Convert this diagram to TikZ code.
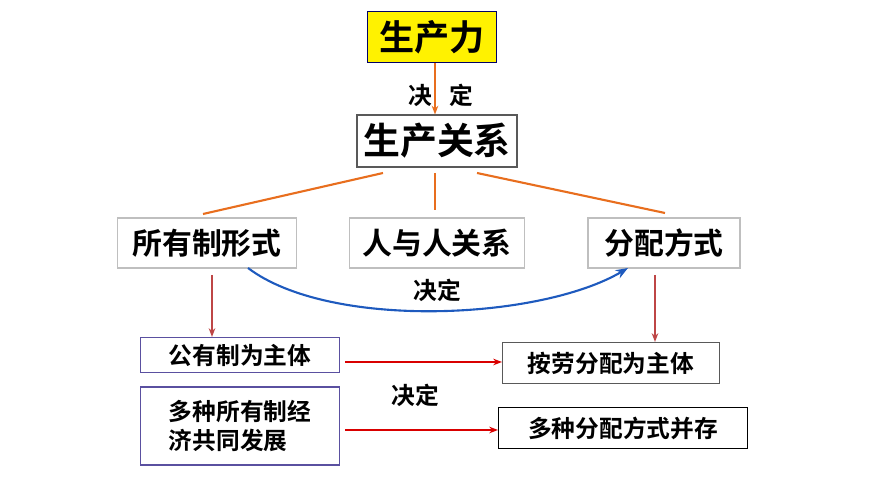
\documentclass[tikz,border=0pt]{standalone}
\usepackage{fontspec}
\newfontfamily\cjk{Noto Sans CJK SC Bold}
\usetikzlibrary{arrows.meta}
\definecolor{orline}{RGB}{232,110,30}
\definecolor{brline}{RGB}{190,70,70}
\definecolor{bluecurve}{RGB}{30,90,190}
\definecolor{purpbox}{RGB}{90,80,160}
\tikzset{
  box/.style={draw=gray!70!black, line width=0.6pt, inner sep=2pt, font=\cjk\fontsize{17}{20}\selectfont},
  smallbox/.style={draw=purpbox, line width=0.6pt, inner sep=3pt, align=left, font=\cjk\fontsize{13.5}{17}\selectfont},
  lbl/.style={font=\cjk\fontsize{13.5}{16}\selectfont},
  redarr/.style={-{Stealth[length=5pt]}, red!85!black, line width=1.1pt},
}
\begin{document}
\begin{tikzpicture}[x=0.02cm, y=-0.02cm]
\useasboundingbox (0,0) rectangle (870,489);
\node[box, fill=yellow, draw=blue!40!black, minimum width=2.58cm, minimum height=1.02cm, font=\cjk\fontsize{20}{24}\selectfont] (sc) at (432,37) {生产力};
\node[box, minimum width=3.2cm, minimum height=1.04cm, font=\cjk\fontsize{21}{25}\selectfont] (gx) at (437,141) {生产关系};
\node[lbl] (jd1) at (441,95) {决\hspace{0.7em}定};
\draw[-{Stealth[length=5pt]}, orline, line width=1pt] (sc.south -| 435,0) -- (gx.north -| 435,0);
% three parts
\node[box, draw=gray!50, minimum width=3.58cm, minimum height=1cm] (syz) at (207,243) {所有制形式};
\node[box, draw=gray!50, minimum width=3.5cm, minimum height=1cm] (rgx) at (437,243) {人与人关系};
\node[box, draw=gray!50, minimum width=3.04cm, minimum height=1cm] (fp) at (664,243) {分配方式};
\draw[orline, line width=1.2pt] (383,173) -- (203,214);
\draw[orline, line width=1.2pt] (435,173) -- (435,210);
\draw[orline, line width=1.2pt] (477,173) -- (665,213);
\draw[-{Stealth[length=7pt]}, bluecurve, line width=1.2pt] (248,268) .. controls (330,330) and (540,320) .. (628,268);
\node[lbl] (jd2) at (437,290) {决定};
% lower boxes
\node[smallbox, minimum width=3.98cm, minimum height=0.7cm] (gy) at (240,355) {公有制为主体};
\node[smallbox, minimum width=3.98cm, minimum height=1.56cm] (dz) at (240,426) {多种所有制经\\济共同发展};
\node[smallbox, draw=gray!70!black, minimum width=4.34cm, minimum height=0.82cm] (al) at (611,363) {按劳分配为主体};
\node[smallbox, draw=black, minimum width=4.98cm, minimum height=0.82cm] (df) at (623,428) {多种分配方式并存};
\draw[-{Stealth[length=5pt]}, brline, line width=1pt] (212,275) -- (gy.north -| 212,0);
\draw[-{Stealth[length=5pt]}, brline, line width=1pt] (655,275) -- (al.north -| 655,0);
\draw[redarr] (gy.east) ++(5,7) -- (al.west |- 0,362);
\draw[redarr] (345,430) -- (df.west |- 0,430);
\node[lbl] (jd3) at (415,395) {决定};
\end{tikzpicture}
\end{document}
